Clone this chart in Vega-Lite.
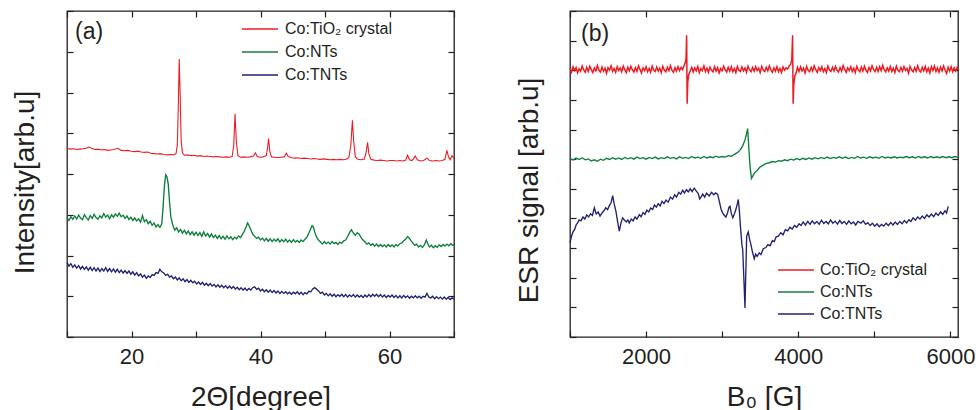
{
  "$schema": "https://vega.github.io/schema/vega-lite/v6.json",
  "background": "white",
  "padding": {"left": 10, "top": 9, "right": 0, "bottom": 0},
  "config": {
    "font": "Liberation Sans",
    "view": {"stroke": "#231f20", "strokeWidth": 1.3},
    "axis": {"grid": false, "domain": false, "tickColor": "#231f20", "tickSize": -6, "tickWidth": 1.2, "labelFont": "Liberation Sans", "labelFontSize": 22, "labelColor": "#231f20", "labelPadding": 15, "labelFlush": false, "labelOverlap": false, "titleFont": "Liberation Sans", "titleFontSize": 28, "titleFontWeight": "normal", "titleColor": "#231f20"},
    "line": {"strokeWidth": 1.35}
  },
  "datasets": {
    "xrd_c": [{"x":10.0,"y":4.63},{"x":10.5,"y":4.61},{"x":11.0,"y":4.62},{"x":11.5,"y":4.6},{"x":12.0,"y":4.61},{"x":12.5,"y":4.62},{"x":13.0,"y":4.63},{"x":13.4,"y":4.66},{"x":13.8,"y":4.63},{"x":14.3,"y":4.6},{"x":14.8,"y":4.61},{"x":15.3,"y":4.59},{"x":15.8,"y":4.6},{"x":16.3,"y":4.58},{"x":16.8,"y":4.59},{"x":17.3,"y":4.6},{"x":17.9,"y":4.63},{"x":18.4,"y":4.58},{"x":18.9,"y":4.57},{"x":19.4,"y":4.58},{"x":20.0,"y":4.56},{"x":20.5,"y":4.55},{"x":21.0,"y":4.56},{"x":21.5,"y":4.54},{"x":22.0,"y":4.53},{"x":22.5,"y":4.54},{"x":23.0,"y":4.51},{"x":23.5,"y":4.5},{"x":24.0,"y":4.49},{"x":24.5,"y":4.5},{"x":25.0,"y":4.48},{"x":25.5,"y":4.47},{"x":26.0,"y":4.48},{"x":26.5,"y":4.47},{"x":26.9,"y":4.5},{"x":27.1,"y":4.7},{"x":27.25,"y":5.6},{"x":27.4,"y":6.82},{"x":27.55,"y":5.9},{"x":27.7,"y":4.8},{"x":27.9,"y":4.52},{"x":28.2,"y":4.46},{"x":28.7,"y":4.47},{"x":29.2,"y":4.45},{"x":29.7,"y":4.46},{"x":30.2,"y":4.44},{"x":30.7,"y":4.45},{"x":31.2,"y":4.43},{"x":31.7,"y":4.44},{"x":32.2,"y":4.43},{"x":32.7,"y":4.42},{"x":33.2,"y":4.43},{"x":33.7,"y":4.42},{"x":34.2,"y":4.41},{"x":34.7,"y":4.42},{"x":35.2,"y":4.41},{"x":35.6,"y":4.43},{"x":35.85,"y":4.7},{"x":36.05,"y":5.47},{"x":36.25,"y":4.8},{"x":36.5,"y":4.45},{"x":36.9,"y":4.41},{"x":37.4,"y":4.42},{"x":37.9,"y":4.41},{"x":38.4,"y":4.42},{"x":38.9,"y":4.44},{"x":39.2,"y":4.52},{"x":39.5,"y":4.43},{"x":39.9,"y":4.41},{"x":40.4,"y":4.42},{"x":40.9,"y":4.45},{"x":41.1,"y":4.65},{"x":41.25,"y":4.87},{"x":41.45,"y":4.55},{"x":41.7,"y":4.42},{"x":42.2,"y":4.41},{"x":42.7,"y":4.4},{"x":43.2,"y":4.41},{"x":43.7,"y":4.42},{"x":44.0,"y":4.51},{"x":44.3,"y":4.43},{"x":44.8,"y":4.4},{"x":45.3,"y":4.39},{"x":45.8,"y":4.4},{"x":46.3,"y":4.38},{"x":46.8,"y":4.39},{"x":47.3,"y":4.38},{"x":47.8,"y":4.37},{"x":48.3,"y":4.38},{"x":48.8,"y":4.37},{"x":49.3,"y":4.36},{"x":49.8,"y":4.37},{"x":50.3,"y":4.36},{"x":50.8,"y":4.35},{"x":51.3,"y":4.36},{"x":51.8,"y":4.35},{"x":52.3,"y":4.36},{"x":52.8,"y":4.35},{"x":53.3,"y":4.36},{"x":53.7,"y":4.4},{"x":54.0,"y":4.7},{"x":54.25,"y":5.32},{"x":54.45,"y":4.8},{"x":54.7,"y":4.42},{"x":55.1,"y":4.36},{"x":55.6,"y":4.35},{"x":56.1,"y":4.37},{"x":56.4,"y":4.55},{"x":56.6,"y":4.78},{"x":56.8,"y":4.5},{"x":57.1,"y":4.36},{"x":57.6,"y":4.34},{"x":58.1,"y":4.33},{"x":58.6,"y":4.34},{"x":59.1,"y":4.33},{"x":59.6,"y":4.32},{"x":60.1,"y":4.33},{"x":60.6,"y":4.33},{"x":61.1,"y":4.32},{"x":61.6,"y":4.33},{"x":62.1,"y":4.32},{"x":62.5,"y":4.34},{"x":62.8,"y":4.46},{"x":63.1,"y":4.35},{"x":63.5,"y":4.33},{"x":64.0,"y":4.44},{"x":64.3,"y":4.35},{"x":64.8,"y":4.32},{"x":65.3,"y":4.33},{"x":65.8,"y":4.39},{"x":66.2,"y":4.33},{"x":66.7,"y":4.32},{"x":67.2,"y":4.33},{"x":67.7,"y":4.32},{"x":68.2,"y":4.33},{"x":68.6,"y":4.36},{"x":68.9,"y":4.58},{"x":69.15,"y":4.42},{"x":69.4,"y":4.35},{"x":69.7,"y":4.45},{"x":70.0,"y":4.38}],
    "xrd_n": [{"x":10.0,"y":2.93},{"x":10.3,"y":2.86},{"x":10.6,"y":2.95},{"x":10.9,"y":2.89},{"x":11.2,"y":2.97},{"x":11.5,"y":2.9},{"x":11.8,"y":2.99},{"x":12.1,"y":2.92},{"x":12.4,"y":2.88},{"x":12.7,"y":3.0},{"x":13.0,"y":2.93},{"x":13.3,"y":2.87},{"x":13.6,"y":2.98},{"x":13.9,"y":2.91},{"x":14.2,"y":3.01},{"x":14.5,"y":2.93},{"x":14.8,"y":2.89},{"x":15.1,"y":2.97},{"x":15.4,"y":2.92},{"x":15.7,"y":3.03},{"x":16.0,"y":2.94},{"x":16.3,"y":2.99},{"x":16.6,"y":2.9},{"x":16.9,"y":3.0},{"x":17.2,"y":2.94},{"x":17.5,"y":3.02},{"x":17.8,"y":2.96},{"x":18.1,"y":3.04},{"x":18.4,"y":2.95},{"x":18.7,"y":2.99},{"x":19.0,"y":2.91},{"x":19.3,"y":2.97},{"x":19.6,"y":2.88},{"x":19.9,"y":2.94},{"x":20.2,"y":2.86},{"x":20.5,"y":2.92},{"x":20.8,"y":2.85},{"x":21.1,"y":2.9},{"x":21.4,"y":2.82},{"x":21.7,"y":2.98},{"x":22.0,"y":2.83},{"x":22.3,"y":2.88},{"x":22.6,"y":2.78},{"x":22.9,"y":2.84},{"x":23.2,"y":2.74},{"x":23.5,"y":2.8},{"x":23.8,"y":2.7},{"x":24.1,"y":2.76},{"x":24.4,"y":2.69},{"x":24.7,"y":2.78},{"x":24.9,"y":3.2},{"x":25.1,"y":3.7},{"x":25.3,"y":3.98},{"x":25.5,"y":3.93},{"x":25.7,"y":3.75},{"x":25.9,"y":3.3},{"x":26.1,"y":2.95},{"x":26.4,"y":2.75},{"x":26.7,"y":2.62},{"x":27.0,"y":2.68},{"x":27.3,"y":2.58},{"x":27.6,"y":2.64},{"x":27.9,"y":2.55},{"x":28.2,"y":2.62},{"x":28.5,"y":2.53},{"x":28.8,"y":2.6},{"x":29.1,"y":2.51},{"x":29.4,"y":2.58},{"x":29.7,"y":2.5},{"x":30.0,"y":2.57},{"x":30.3,"y":2.49},{"x":30.6,"y":2.56},{"x":30.9,"y":2.47},{"x":31.2,"y":2.58},{"x":31.5,"y":2.48},{"x":31.8,"y":2.54},{"x":32.1,"y":2.45},{"x":32.4,"y":2.53},{"x":32.7,"y":2.44},{"x":33.0,"y":2.5},{"x":33.3,"y":2.42},{"x":33.6,"y":2.49},{"x":33.9,"y":2.41},{"x":34.2,"y":2.47},{"x":34.5,"y":2.4},{"x":34.8,"y":2.48},{"x":35.1,"y":2.41},{"x":35.4,"y":2.46},{"x":35.7,"y":2.39},{"x":36.0,"y":2.45},{"x":36.3,"y":2.41},{"x":36.6,"y":2.48},{"x":36.9,"y":2.44},{"x":37.2,"y":2.52},{"x":37.5,"y":2.6},{"x":37.8,"y":2.72},{"x":38.0,"y":2.8},{"x":38.2,"y":2.74},{"x":38.5,"y":2.63},{"x":38.8,"y":2.52},{"x":39.1,"y":2.47},{"x":39.4,"y":2.42},{"x":39.7,"y":2.45},{"x":40.0,"y":2.38},{"x":40.3,"y":2.43},{"x":40.6,"y":2.36},{"x":40.9,"y":2.42},{"x":41.2,"y":2.35},{"x":41.5,"y":2.41},{"x":41.8,"y":2.34},{"x":42.1,"y":2.4},{"x":42.4,"y":2.35},{"x":42.7,"y":2.41},{"x":43.0,"y":2.33},{"x":43.3,"y":2.39},{"x":43.6,"y":2.34},{"x":43.9,"y":2.4},{"x":44.2,"y":2.33},{"x":44.5,"y":2.38},{"x":44.8,"y":2.32},{"x":45.1,"y":2.39},{"x":45.4,"y":2.33},{"x":45.7,"y":2.37},{"x":46.0,"y":2.32},{"x":46.3,"y":2.38},{"x":46.6,"y":2.34},{"x":46.9,"y":2.4},{"x":47.2,"y":2.45},{"x":47.5,"y":2.55},{"x":47.8,"y":2.66},{"x":48.0,"y":2.73},{"x":48.2,"y":2.7},{"x":48.4,"y":2.58},{"x":48.7,"y":2.45},{"x":49.0,"y":2.38},{"x":49.3,"y":2.33},{"x":49.6,"y":2.28},{"x":49.9,"y":2.34},{"x":50.2,"y":2.29},{"x":50.5,"y":2.33},{"x":50.8,"y":2.28},{"x":51.1,"y":2.34},{"x":51.4,"y":2.29},{"x":51.7,"y":2.32},{"x":52.0,"y":2.27},{"x":52.3,"y":2.33},{"x":52.6,"y":2.3},{"x":52.9,"y":2.36},{"x":53.2,"y":2.38},{"x":53.5,"y":2.46},{"x":53.8,"y":2.56},{"x":54.1,"y":2.63},{"x":54.4,"y":2.55},{"x":54.7,"y":2.5},{"x":55.0,"y":2.56},{"x":55.3,"y":2.52},{"x":55.6,"y":2.44},{"x":55.9,"y":2.38},{"x":56.2,"y":2.33},{"x":56.5,"y":2.28},{"x":56.8,"y":2.31},{"x":57.1,"y":2.25},{"x":57.4,"y":2.29},{"x":57.7,"y":2.23},{"x":58.0,"y":2.28},{"x":58.3,"y":2.22},{"x":58.6,"y":2.27},{"x":58.9,"y":2.22},{"x":59.2,"y":2.26},{"x":59.5,"y":2.21},{"x":59.8,"y":2.27},{"x":60.1,"y":2.22},{"x":60.4,"y":2.26},{"x":60.7,"y":2.21},{"x":61.0,"y":2.27},{"x":61.3,"y":2.23},{"x":61.6,"y":2.29},{"x":61.9,"y":2.31},{"x":62.2,"y":2.36},{"x":62.5,"y":2.4},{"x":62.8,"y":2.46},{"x":63.0,"y":2.44},{"x":63.3,"y":2.37},{"x":63.6,"y":2.31},{"x":63.9,"y":2.25},{"x":64.2,"y":2.28},{"x":64.5,"y":2.21},{"x":64.8,"y":2.25},{"x":65.1,"y":2.2},{"x":65.4,"y":2.26},{"x":65.7,"y":2.38},{"x":65.9,"y":2.3},{"x":66.2,"y":2.21},{"x":66.5,"y":2.25},{"x":66.8,"y":2.19},{"x":67.1,"y":2.24},{"x":67.4,"y":2.2},{"x":67.7,"y":2.26},{"x":68.0,"y":2.22},{"x":68.3,"y":2.27},{"x":68.6,"y":2.23},{"x":68.9,"y":2.28},{"x":69.2,"y":2.24},{"x":69.5,"y":2.29},{"x":69.8,"y":2.25},{"x":70.0,"y":2.27}],
    "xrd_t": [{"x":10.0,"y":1.83},{"x":10.3,"y":1.74},{"x":10.6,"y":1.8},{"x":10.9,"y":1.71},{"x":11.2,"y":1.77},{"x":11.5,"y":1.69},{"x":11.8,"y":1.75},{"x":12.1,"y":1.67},{"x":12.4,"y":1.73},{"x":12.7,"y":1.66},{"x":13.0,"y":1.72},{"x":13.3,"y":1.64},{"x":13.6,"y":1.71},{"x":13.9,"y":1.63},{"x":14.2,"y":1.7},{"x":14.5,"y":1.62},{"x":14.8,"y":1.69},{"x":15.1,"y":1.61},{"x":15.4,"y":1.68},{"x":15.7,"y":1.62},{"x":16.0,"y":1.7},{"x":16.3,"y":1.61},{"x":16.6,"y":1.68},{"x":16.9,"y":1.6},{"x":17.2,"y":1.67},{"x":17.5,"y":1.59},{"x":17.8,"y":1.66},{"x":18.1,"y":1.58},{"x":18.4,"y":1.64},{"x":18.7,"y":1.57},{"x":19.0,"y":1.63},{"x":19.3,"y":1.56},{"x":19.6,"y":1.62},{"x":19.9,"y":1.54},{"x":20.2,"y":1.6},{"x":20.5,"y":1.52},{"x":20.8,"y":1.58},{"x":21.1,"y":1.5},{"x":21.4,"y":1.55},{"x":21.7,"y":1.47},{"x":22.0,"y":1.52},{"x":22.3,"y":1.44},{"x":22.6,"y":1.5},{"x":22.9,"y":1.46},{"x":23.2,"y":1.53},{"x":23.5,"y":1.51},{"x":23.8,"y":1.58},{"x":24.1,"y":1.56},{"x":24.4,"y":1.66},{"x":24.7,"y":1.6},{"x":25.0,"y":1.57},{"x":25.3,"y":1.51},{"x":25.6,"y":1.54},{"x":25.9,"y":1.47},{"x":26.2,"y":1.5},{"x":26.5,"y":1.43},{"x":26.8,"y":1.47},{"x":27.1,"y":1.4},{"x":27.4,"y":1.45},{"x":27.7,"y":1.38},{"x":28.0,"y":1.43},{"x":28.3,"y":1.36},{"x":28.6,"y":1.41},{"x":28.9,"y":1.34},{"x":29.2,"y":1.39},{"x":29.5,"y":1.33},{"x":29.8,"y":1.37},{"x":30.1,"y":1.3},{"x":30.4,"y":1.35},{"x":30.7,"y":1.29},{"x":31.0,"y":1.34},{"x":31.3,"y":1.27},{"x":31.6,"y":1.32},{"x":31.9,"y":1.26},{"x":32.2,"y":1.31},{"x":32.5,"y":1.25},{"x":32.8,"y":1.29},{"x":33.1,"y":1.23},{"x":33.4,"y":1.28},{"x":33.7,"y":1.22},{"x":34.0,"y":1.27},{"x":34.3,"y":1.21},{"x":34.6,"y":1.26},{"x":34.9,"y":1.2},{"x":35.2,"y":1.25},{"x":35.5,"y":1.19},{"x":35.8,"y":1.24},{"x":36.1,"y":1.18},{"x":36.4,"y":1.22},{"x":36.7,"y":1.16},{"x":37.0,"y":1.21},{"x":37.3,"y":1.15},{"x":37.6,"y":1.2},{"x":37.9,"y":1.14},{"x":38.2,"y":1.19},{"x":38.5,"y":1.15},{"x":38.8,"y":1.21},{"x":39.1,"y":1.23},{"x":39.4,"y":1.17},{"x":39.7,"y":1.2},{"x":40.0,"y":1.13},{"x":40.3,"y":1.17},{"x":40.6,"y":1.11},{"x":40.9,"y":1.16},{"x":41.2,"y":1.1},{"x":41.5,"y":1.15},{"x":41.8,"y":1.09},{"x":42.1,"y":1.14},{"x":42.4,"y":1.08},{"x":42.7,"y":1.13},{"x":43.0,"y":1.07},{"x":43.3,"y":1.12},{"x":43.6,"y":1.07},{"x":43.9,"y":1.11},{"x":44.2,"y":1.06},{"x":44.5,"y":1.1},{"x":44.8,"y":1.05},{"x":45.1,"y":1.1},{"x":45.4,"y":1.06},{"x":45.7,"y":1.11},{"x":46.0,"y":1.05},{"x":46.3,"y":1.1},{"x":46.6,"y":1.04},{"x":46.9,"y":1.09},{"x":47.2,"y":1.06},{"x":47.5,"y":1.12},{"x":47.8,"y":1.11},{"x":48.1,"y":1.18},{"x":48.4,"y":1.21},{"x":48.7,"y":1.17},{"x":49.0,"y":1.13},{"x":49.3,"y":1.07},{"x":49.6,"y":1.1},{"x":49.9,"y":1.03},{"x":50.2,"y":1.07},{"x":50.5,"y":1.01},{"x":50.8,"y":1.06},{"x":51.1,"y":1.0},{"x":51.4,"y":1.05},{"x":51.7,"y":0.99},{"x":52.0,"y":1.04},{"x":52.3,"y":1.0},{"x":52.6,"y":1.05},{"x":52.9,"y":0.99},{"x":53.2,"y":1.04},{"x":53.5,"y":0.98},{"x":53.8,"y":1.03},{"x":54.1,"y":0.99},{"x":54.4,"y":1.04},{"x":54.7,"y":0.98},{"x":55.0,"y":1.03},{"x":55.3,"y":0.98},{"x":55.6,"y":1.02},{"x":55.9,"y":0.97},{"x":56.2,"y":1.03},{"x":56.5,"y":0.98},{"x":56.8,"y":1.04},{"x":57.1,"y":0.99},{"x":57.4,"y":1.05},{"x":57.7,"y":1.0},{"x":58.0,"y":1.05},{"x":58.3,"y":0.99},{"x":58.6,"y":1.04},{"x":58.9,"y":0.98},{"x":59.2,"y":1.03},{"x":59.5,"y":0.97},{"x":59.8,"y":1.02},{"x":60.1,"y":0.98},{"x":60.4,"y":1.03},{"x":60.7,"y":0.97},{"x":61.0,"y":1.02},{"x":61.3,"y":0.96},{"x":61.6,"y":1.01},{"x":61.9,"y":0.96},{"x":62.2,"y":1.02},{"x":62.5,"y":0.97},{"x":62.8,"y":1.01},{"x":63.1,"y":0.95},{"x":63.4,"y":1.0},{"x":63.7,"y":0.96},{"x":64.0,"y":1.01},{"x":64.3,"y":0.96},{"x":64.6,"y":1.0},{"x":64.9,"y":0.95},{"x":65.2,"y":1.0},{"x":65.5,"y":0.98},{"x":65.8,"y":1.07},{"x":66.1,"y":0.98},{"x":66.4,"y":0.96},{"x":66.7,"y":1.0},{"x":67.0,"y":0.94},{"x":67.3,"y":0.99},{"x":67.6,"y":0.94},{"x":67.9,"y":0.98},{"x":68.2,"y":0.93},{"x":68.5,"y":0.98},{"x":68.8,"y":0.93},{"x":69.1,"y":0.97},{"x":69.4,"y":0.92},{"x":69.7,"y":0.96},{"x":70.0,"y":0.93}],
    "esr_c": [{"x":1000,"y":9.06},{"x":1020,"y":8.94},{"x":1040,"y":9.12},{"x":1060,"y":8.99},{"x":1080,"y":9.09},{"x":1100,"y":8.91},{"x":1120,"y":9.05},{"x":1140,"y":8.97},{"x":1160,"y":9.14},{"x":1180,"y":9.01},{"x":1200,"y":8.93},{"x":1220,"y":9.1},{"x":1240,"y":8.96},{"x":1260,"y":9.13},{"x":1280,"y":9.02},{"x":1300,"y":8.92},{"x":1320,"y":9.08},{"x":1340,"y":8.98},{"x":1360,"y":9.16},{"x":1380,"y":9.0},{"x":1400,"y":8.94},{"x":1420,"y":9.11},{"x":1440,"y":8.97},{"x":1460,"y":9.07},{"x":1480,"y":8.9},{"x":1500,"y":9.09},{"x":1520,"y":9.0},{"x":1540,"y":9.15},{"x":1560,"y":8.96},{"x":1580,"y":9.06},{"x":1600,"y":8.93},{"x":1620,"y":9.12},{"x":1640,"y":8.99},{"x":1660,"y":9.08},{"x":1680,"y":8.95},{"x":1700,"y":9.14},{"x":1720,"y":9.02},{"x":1740,"y":8.92},{"x":1760,"y":9.1},{"x":1780,"y":8.98},{"x":1800,"y":9.13},{"x":1820,"y":9.01},{"x":1840,"y":8.94},{"x":1860,"y":9.09},{"x":1880,"y":8.96},{"x":1900,"y":9.15},{"x":1920,"y":9.03},{"x":1940,"y":8.91},{"x":1960,"y":9.08},{"x":1980,"y":8.99},{"x":2000,"y":9.12},{"x":2020,"y":8.95},{"x":2040,"y":9.06},{"x":2060,"y":8.93},{"x":2080,"y":9.14},{"x":2100,"y":9.0},{"x":2120,"y":8.96},{"x":2140,"y":9.11},{"x":2160,"y":8.97},{"x":2180,"y":9.07},{"x":2200,"y":8.92},{"x":2220,"y":9.13},{"x":2240,"y":9.01},{"x":2260,"y":8.95},{"x":2280,"y":9.1},{"x":2300,"y":8.98},{"x":2320,"y":9.16},{"x":2340,"y":9.0},{"x":2360,"y":8.93},{"x":2380,"y":9.09},{"x":2400,"y":8.97},{"x":2420,"y":9.12},{"x":2440,"y":8.99},{"x":2460,"y":9.1},{"x":2480,"y":9.02},{"x":2500,"y":9.16},{"x":2515,"y":9.25},{"x":2525,"y":9.4},{"x":2533,"y":10.18},{"x":2540,"y":7.87},{"x":2548,"y":8.6},{"x":2560,"y":8.85},{"x":2580,"y":8.97},{"x":2600,"y":9.1},{"x":2620,"y":8.94},{"x":2640,"y":9.08},{"x":2660,"y":8.98},{"x":2680,"y":9.13},{"x":2700,"y":8.92},{"x":2720,"y":9.06},{"x":2740,"y":8.99},{"x":2760,"y":9.15},{"x":2780,"y":8.96},{"x":2800,"y":9.07},{"x":2820,"y":8.93},{"x":2840,"y":9.11},{"x":2860,"y":9.0},{"x":2880,"y":8.95},{"x":2900,"y":9.12},{"x":2920,"y":8.97},{"x":2940,"y":9.09},{"x":2960,"y":8.91},{"x":2980,"y":9.06},{"x":3000,"y":8.98},{"x":3020,"y":9.14},{"x":3040,"y":9.01},{"x":3060,"y":8.94},{"x":3080,"y":9.1},{"x":3100,"y":8.97},{"x":3120,"y":9.12},{"x":3140,"y":8.95},{"x":3160,"y":9.06},{"x":3180,"y":8.92},{"x":3200,"y":9.13},{"x":3220,"y":9.0},{"x":3240,"y":8.96},{"x":3260,"y":9.11},{"x":3280,"y":8.98},{"x":3300,"y":9.08},{"x":3320,"y":8.93},{"x":3340,"y":9.14},{"x":3360,"y":9.01},{"x":3380,"y":8.95},{"x":3400,"y":9.09},{"x":3420,"y":8.97},{"x":3440,"y":9.12},{"x":3460,"y":8.99},{"x":3480,"y":9.07},{"x":3500,"y":8.92},{"x":3520,"y":9.13},{"x":3540,"y":9.0},{"x":3560,"y":8.96},{"x":3580,"y":9.1},{"x":3600,"y":8.98},{"x":3620,"y":9.15},{"x":3640,"y":9.01},{"x":3660,"y":8.93},{"x":3680,"y":9.08},{"x":3700,"y":8.97},{"x":3720,"y":9.12},{"x":3740,"y":8.95},{"x":3760,"y":9.06},{"x":3780,"y":8.92},{"x":3800,"y":9.11},{"x":3820,"y":9.0},{"x":3840,"y":9.08},{"x":3860,"y":9.04},{"x":3880,"y":9.14},{"x":3900,"y":9.2},{"x":3915,"y":9.35},{"x":3926,"y":10.18},{"x":3933,"y":7.87},{"x":3941,"y":8.5},{"x":3955,"y":8.8},{"x":3975,"y":8.93},{"x":3990,"y":9.1},{"x":4010,"y":8.96},{"x":4030,"y":9.12},{"x":4050,"y":8.98},{"x":4070,"y":9.07},{"x":4090,"y":8.91},{"x":4110,"y":9.13},{"x":4130,"y":9.0},{"x":4150,"y":8.95},{"x":4170,"y":9.1},{"x":4190,"y":8.97},{"x":4210,"y":9.15},{"x":4230,"y":9.02},{"x":4250,"y":8.93},{"x":4270,"y":9.09},{"x":4290,"y":8.99},{"x":4310,"y":9.12},{"x":4330,"y":8.95},{"x":4350,"y":9.06},{"x":4370,"y":8.92},{"x":4390,"y":9.14},{"x":4410,"y":9.01},{"x":4430,"y":8.96},{"x":4450,"y":9.1},{"x":4470,"y":8.98},{"x":4490,"y":9.13},{"x":4510,"y":9.0},{"x":4530,"y":8.94},{"x":4550,"y":9.09},{"x":4570,"y":8.97},{"x":4590,"y":9.16},{"x":4610,"y":9.02},{"x":4630,"y":8.93},{"x":4650,"y":9.08},{"x":4670,"y":8.99},{"x":4690,"y":9.12},{"x":4710,"y":8.96},{"x":4730,"y":9.07},{"x":4750,"y":8.92},{"x":4770,"y":9.13},{"x":4790,"y":9.01},{"x":4810,"y":8.95},{"x":4830,"y":9.11},{"x":4850,"y":8.97},{"x":4870,"y":9.14},{"x":4890,"y":9.0},{"x":4910,"y":8.93},{"x":4930,"y":9.09},{"x":4950,"y":8.98},{"x":4970,"y":9.15},{"x":4990,"y":9.02},{"x":5010,"y":8.95},{"x":5030,"y":9.1},{"x":5050,"y":8.96},{"x":5070,"y":9.12},{"x":5090,"y":8.99},{"x":5110,"y":9.17},{"x":5130,"y":9.01},{"x":5150,"y":8.94},{"x":5170,"y":9.08},{"x":5190,"y":8.97},{"x":5210,"y":9.13},{"x":5230,"y":8.96},{"x":5250,"y":9.07},{"x":5270,"y":8.92},{"x":5290,"y":9.14},{"x":5310,"y":9.0},{"x":5330,"y":8.95},{"x":5350,"y":9.1},{"x":5370,"y":8.97},{"x":5390,"y":9.12},{"x":5410,"y":8.99},{"x":5430,"y":9.06},{"x":5450,"y":8.9},{"x":5470,"y":9.13},{"x":5490,"y":9.01},{"x":5510,"y":8.95},{"x":5530,"y":9.09},{"x":5550,"y":8.97},{"x":5570,"y":9.15},{"x":5590,"y":9.0},{"x":5610,"y":8.94},{"x":5630,"y":9.1},{"x":5650,"y":8.98},{"x":5670,"y":9.13},{"x":5690,"y":8.95},{"x":5710,"y":9.07},{"x":5730,"y":8.91},{"x":5750,"y":9.12},{"x":5770,"y":8.99},{"x":5790,"y":9.14},{"x":5810,"y":8.96},{"x":5830,"y":9.08},{"x":5850,"y":8.93},{"x":5870,"y":9.11},{"x":5890,"y":8.98},{"x":5910,"y":9.15},{"x":5930,"y":9.0},{"x":5950,"y":8.89},{"x":5970,"y":9.1},{"x":5990,"y":8.97},{"x":6010,"y":9.12},{"x":6030,"y":8.95},{"x":6050,"y":9.08},{"x":6070,"y":8.97},{"x":6090,"y":9.1},{"x":6100,"y":9.02}],
    "esr_n": [{"x":1000,"y":6.02},{"x":1040,"y":5.97},{"x":1080,"y":6.04},{"x":1120,"y":5.99},{"x":1160,"y":6.05},{"x":1200,"y":5.98},{"x":1240,"y":6.01},{"x":1280,"y":5.94},{"x":1320,"y":5.98},{"x":1360,"y":5.93},{"x":1400,"y":6.0},{"x":1440,"y":5.96},{"x":1480,"y":6.03},{"x":1520,"y":5.99},{"x":1560,"y":6.05},{"x":1600,"y":6.0},{"x":1640,"y":6.04},{"x":1680,"y":5.99},{"x":1720,"y":6.06},{"x":1760,"y":6.01},{"x":1800,"y":6.05},{"x":1840,"y":6.0},{"x":1880,"y":6.07},{"x":1920,"y":6.02},{"x":1960,"y":6.05},{"x":2000,"y":6.0},{"x":2040,"y":6.06},{"x":2080,"y":6.02},{"x":2120,"y":6.07},{"x":2160,"y":6.01},{"x":2200,"y":6.05},{"x":2240,"y":6.02},{"x":2280,"y":6.08},{"x":2320,"y":6.03},{"x":2360,"y":6.06},{"x":2400,"y":6.01},{"x":2440,"y":6.08},{"x":2480,"y":6.03},{"x":2520,"y":6.06},{"x":2560,"y":6.02},{"x":2600,"y":6.09},{"x":2640,"y":6.04},{"x":2680,"y":6.07},{"x":2720,"y":6.03},{"x":2760,"y":6.09},{"x":2800,"y":6.04},{"x":2840,"y":6.08},{"x":2880,"y":6.05},{"x":2920,"y":6.1},{"x":2960,"y":6.06},{"x":3000,"y":6.09},{"x":3040,"y":6.07},{"x":3080,"y":6.12},{"x":3120,"y":6.1},{"x":3160,"y":6.16},{"x":3200,"y":6.22},{"x":3240,"y":6.32},{"x":3270,"y":6.45},{"x":3300,"y":6.65},{"x":3320,"y":6.85},{"x":3335,"y":7.03},{"x":3350,"y":6.4},{"x":3365,"y":5.8},{"x":3385,"y":5.35},{"x":3400,"y":5.42},{"x":3430,"y":5.55},{"x":3460,"y":5.62},{"x":3500,"y":5.74},{"x":3540,"y":5.8},{"x":3580,"y":5.86},{"x":3620,"y":5.88},{"x":3660,"y":5.92},{"x":3700,"y":5.9},{"x":3740,"y":5.95},{"x":3780,"y":5.93},{"x":3820,"y":5.98},{"x":3860,"y":5.95},{"x":3900,"y":6.0},{"x":3940,"y":5.97},{"x":3980,"y":6.02},{"x":4020,"y":5.98},{"x":4060,"y":6.03},{"x":4100,"y":5.99},{"x":4140,"y":6.04},{"x":4180,"y":6.0},{"x":4220,"y":6.05},{"x":4260,"y":6.01},{"x":4300,"y":6.06},{"x":4340,"y":6.02},{"x":4380,"y":6.07},{"x":4420,"y":6.02},{"x":4460,"y":6.06},{"x":4500,"y":6.03},{"x":4540,"y":6.08},{"x":4580,"y":6.03},{"x":4620,"y":6.07},{"x":4660,"y":6.02},{"x":4700,"y":6.06},{"x":4740,"y":6.03},{"x":4780,"y":6.09},{"x":4820,"y":6.04},{"x":4860,"y":6.07},{"x":4900,"y":6.03},{"x":4940,"y":6.08},{"x":4980,"y":6.04},{"x":5020,"y":6.07},{"x":5060,"y":6.03},{"x":5100,"y":6.09},{"x":5140,"y":6.04},{"x":5180,"y":6.07},{"x":5220,"y":6.04},{"x":5260,"y":6.08},{"x":5300,"y":6.04},{"x":5340,"y":6.07},{"x":5380,"y":6.05},{"x":5420,"y":6.09},{"x":5460,"y":6.05},{"x":5500,"y":6.08},{"x":5540,"y":6.04},{"x":5580,"y":6.09},{"x":5620,"y":6.05},{"x":5660,"y":6.08},{"x":5700,"y":6.04},{"x":5740,"y":6.09},{"x":5780,"y":6.05},{"x":5820,"y":6.08},{"x":5860,"y":6.05},{"x":5900,"y":6.09},{"x":5940,"y":6.05},{"x":5980,"y":6.08},{"x":6020,"y":6.05},{"x":6060,"y":6.09},{"x":6100,"y":6.06}],
    "esr_t": [{"x":1000,"y":3.18},{"x":1020,"y":3.4},{"x":1040,"y":3.55},{"x":1060,"y":3.62},{"x":1080,"y":3.78},{"x":1100,"y":3.85},{"x":1120,"y":3.95},{"x":1145,"y":3.92},{"x":1170,"y":4.05},{"x":1195,"y":3.98},{"x":1220,"y":4.12},{"x":1245,"y":4.05},{"x":1270,"y":4.16},{"x":1295,"y":4.1},{"x":1320,"y":4.36},{"x":1345,"y":4.15},{"x":1370,"y":4.22},{"x":1395,"y":4.08},{"x":1420,"y":4.18},{"x":1445,"y":4.26},{"x":1470,"y":4.36},{"x":1495,"y":4.3},{"x":1520,"y":4.45},{"x":1540,"y":4.53},{"x":1561,"y":4.77},{"x":1580,"y":4.5},{"x":1604,"y":4.24},{"x":1625,"y":3.9},{"x":1648,"y":3.57},{"x":1670,"y":3.85},{"x":1692,"y":4.02},{"x":1715,"y":3.95},{"x":1740,"y":3.88},{"x":1760,"y":3.95},{"x":1779,"y":3.85},{"x":1805,"y":3.98},{"x":1830,"y":3.92},{"x":1855,"y":4.05},{"x":1880,"y":3.98},{"x":1911,"y":4.13},{"x":1935,"y":4.06},{"x":1960,"y":4.2},{"x":1985,"y":4.14},{"x":2010,"y":4.28},{"x":2035,"y":4.22},{"x":2060,"y":4.35},{"x":2087,"y":4.3},{"x":2110,"y":4.45},{"x":2135,"y":4.38},{"x":2160,"y":4.5},{"x":2185,"y":4.42},{"x":2210,"y":4.58},{"x":2235,"y":4.5},{"x":2262,"y":4.62},{"x":2290,"y":4.55},{"x":2320,"y":4.72},{"x":2349,"y":4.65},{"x":2375,"y":4.8},{"x":2400,"y":4.72},{"x":2430,"y":4.88},{"x":2455,"y":4.82},{"x":2481,"y":4.95},{"x":2505,"y":4.86},{"x":2530,"y":4.97},{"x":2555,"y":4.9},{"x":2580,"y":5.0},{"x":2605,"y":4.91},{"x":2634,"y":5.02},{"x":2660,"y":4.92},{"x":2685,"y":4.85},{"x":2705,"y":4.66},{"x":2722,"y":4.72},{"x":2745,"y":4.82},{"x":2770,"y":4.72},{"x":2795,"y":4.85},{"x":2830,"y":4.76},{"x":2860,"y":4.88},{"x":2890,"y":4.8},{"x":2915,"y":4.86},{"x":2941,"y":4.81},{"x":2965,"y":4.55},{"x":2985,"y":4.32},{"x":3006,"y":4.19},{"x":3030,"y":4.1},{"x":3050,"y":4.05},{"x":3072,"y":4.2},{"x":3090,"y":4.38},{"x":3103,"y":4.41},{"x":3120,"y":4.18},{"x":3140,"y":4.02},{"x":3160,"y":4.15},{"x":3180,"y":4.3},{"x":3200,"y":4.5},{"x":3212,"y":4.64},{"x":3225,"y":4.3},{"x":3240,"y":3.74},{"x":3260,"y":3.1},{"x":3270,"y":2.95},{"x":3285,"y":2.0},{"x":3300,"y":0.98},{"x":3312,"y":2.3},{"x":3322,"y":3.4},{"x":3343,"y":3.54},{"x":3360,"y":3.3},{"x":3378,"y":3.12},{"x":3400,"y":2.85},{"x":3422,"y":2.64},{"x":3440,"y":2.8},{"x":3460,"y":2.72},{"x":3488,"y":2.84},{"x":3510,"y":2.78},{"x":3540,"y":2.98},{"x":3575,"y":3.02},{"x":3600,"y":3.12},{"x":3630,"y":3.08},{"x":3660,"y":3.25},{"x":3685,"y":3.22},{"x":3710,"y":3.38},{"x":3740,"y":3.4},{"x":3770,"y":3.52},{"x":3800,"y":3.45},{"x":3830,"y":3.62},{"x":3861,"y":3.58},{"x":3890,"y":3.7},{"x":3920,"y":3.64},{"x":3950,"y":3.76},{"x":3980,"y":3.7},{"x":4010,"y":3.82},{"x":4036,"y":3.76},{"x":4065,"y":3.88},{"x":4095,"y":3.78},{"x":4125,"y":3.9},{"x":4155,"y":3.8},{"x":4185,"y":3.92},{"x":4215,"y":3.82},{"x":4245,"y":3.9},{"x":4275,"y":3.8},{"x":4305,"y":3.94},{"x":4335,"y":3.83},{"x":4365,"y":3.9},{"x":4395,"y":3.82},{"x":4425,"y":3.95},{"x":4455,"y":3.84},{"x":4485,"y":3.91},{"x":4515,"y":3.81},{"x":4545,"y":3.93},{"x":4575,"y":3.83},{"x":4605,"y":3.9},{"x":4635,"y":3.8},{"x":4665,"y":3.92},{"x":4695,"y":3.82},{"x":4725,"y":3.88},{"x":4755,"y":3.78},{"x":4785,"y":3.9},{"x":4824,"y":3.84},{"x":4855,"y":3.92},{"x":4885,"y":3.8},{"x":4915,"y":3.86},{"x":4945,"y":3.76},{"x":4975,"y":3.84},{"x":5005,"y":3.74},{"x":5035,"y":3.82},{"x":5065,"y":3.72},{"x":5095,"y":3.8},{"x":5125,"y":3.74},{"x":5155,"y":3.84},{"x":5185,"y":3.76},{"x":5215,"y":3.86},{"x":5245,"y":3.78},{"x":5275,"y":3.88},{"x":5305,"y":3.8},{"x":5335,"y":3.9},{"x":5365,"y":3.82},{"x":5395,"y":3.93},{"x":5425,"y":3.85},{"x":5455,"y":3.96},{"x":5481,"y":3.9},{"x":5510,"y":4.02},{"x":5540,"y":3.94},{"x":5570,"y":4.05},{"x":5600,"y":3.98},{"x":5630,"y":4.08},{"x":5660,"y":4.0},{"x":5690,"y":4.12},{"x":5720,"y":4.05},{"x":5750,"y":4.15},{"x":5780,"y":4.06},{"x":5810,"y":4.18},{"x":5840,"y":4.1},{"x":5870,"y":4.22},{"x":5900,"y":4.14},{"x":5930,"y":4.26},{"x":5950,"y":4.18},{"x":5971,"y":4.41}]
  },
  "spacing": 116,
  "bounds": "flush",
  "resolve": {"scale": {"color": "independent"}, "legend": {"color": "independent"}},
  "hconcat": [
    {
      "width": 387,
      "height": 326,
      "resolve": {"axis": {"x": "independent", "y": "independent"}},
      "layer": [
        {
          "encoding": {
            "x": {"field": "x", "type": "quantitative", "scale": {"domain": [10, 70], "nice": false, "zero": false}, "axis": {"values": [10, 20, 30, 40, 50, 60, 70], "labelExpr": "datum.value % 20 == 0 ? datum.label : ''", "title": "2Θ[degree]", "titleY": 46}},
            "y": {"field": "y", "type": "quantitative", "scale": {"domain": [0, 8], "nice": false, "zero": false}, "axis": {"values": [0, 1, 2, 3, 4, 5, 6, 7, 8], "labels": false, "title": "Intensity[arb.u]", "titleX": -28, "titleY": 171, "titleBaseline": "bottom"}},
            "color": {"type": "nominal", "scale": {"domain": ["Co:TiO₂ crystal", "Co:NTs", "Co:TNTs"], "range": ["#ed1c24", "#0e7f3c", "#202270"]}, "legend": {"orient": "none", "legendX": 185, "legendY": 10, "title": null, "symbolType": "M-3,0H3", "symbolSize": 144, "symbolStrokeWidth": 1.4, "labelFont": "Liberation Sans", "labelFontSize": 16, "labelColor": "#231f20", "labelOffset": 17, "rowPadding": 7, "padding": 0}}
          },
          "layer": [
            {"data": {"name": "xrd_c"}, "mark": {"type": "line", "strokeWidth": 1.1}, "encoding": {"color": {"datum": "Co:TiO₂ crystal"}}},
            {"data": {"name": "xrd_n"}, "mark": {"type": "line"}, "encoding": {"color": {"datum": "Co:NTs"}}},
            {"data": {"name": "xrd_t"}, "mark": {"type": "line"}, "encoding": {"color": {"datum": "Co:TNTs"}}}
          ]
        },
        {
          "data": {"values": [{"label": "(a)"}]},
          "mark": {"type": "text", "align": "left", "baseline": "alphabetic", "fontSize": 23, "font": "Liberation Sans", "color": "#231f20"},
          "encoding": {
            "x": {"datum": 11.24, "type": "quantitative", "axis": {"orient": "top", "values": [10, 20, 30, 40, 50, 60, 70], "labels": false, "title": null}},
            "y": {"datum": 7.31, "type": "quantitative", "axis": {"orient": "right", "values": [0, 1, 2, 3, 4, 5, 6, 7, 8], "labels": false, "title": null}},
            "text": {"field": "label"}
          }
        }
      ]
    },
    {
      "width": 388,
      "height": 326,
      "resolve": {"axis": {"x": "independent", "y": "independent"}},
      "layer": [
        {
          "encoding": {
            "x": {"field": "x", "type": "quantitative", "scale": {"domain": [1000, 6100], "nice": false, "zero": false}, "axis": {"values": [1000, 2000, 3000, 4000, 5000, 6000], "format": "d", "labelExpr": "datum.value % 2000 == 0 ? datum.label : ''", "title": "B₀ [G]", "titleY": 46}},
            "y": {"field": "y", "type": "quantitative", "scale": {"domain": [0, 11], "nice": false, "zero": false}, "axis": {"values": [0, 1, 2, 3, 4, 5, 6, 7, 8, 9, 10, 11], "labels": false, "title": "ESR signal [arb.u]", "titleX": -27, "titleY": 179, "titleBaseline": "bottom"}},
            "color": {"type": "nominal", "scale": {"domain": ["Co:TiO₂ crystal", "Co:NTs", "Co:TNTs"], "range": ["#ed1c24", "#0e7f3c", "#202270"]}, "legend": {"orient": "none", "legendX": 218, "legendY": 251, "title": null, "symbolType": "M-3,0H3", "symbolSize": 144, "symbolStrokeWidth": 1.4, "labelFont": "Liberation Sans", "labelFontSize": 16, "labelColor": "#231f20", "labelOffset": 16, "rowPadding": 6, "padding": 0}}
          },
          "layer": [
            {"data": {"name": "esr_c"}, "mark": {"type": "line", "strokeWidth": 1.5}, "encoding": {"color": {"datum": "Co:TiO₂ crystal"}}},
            {"data": {"name": "esr_n"}, "mark": {"type": "line"}, "encoding": {"color": {"datum": "Co:NTs"}}},
            {"data": {"name": "esr_t"}, "mark": {"type": "line"}, "encoding": {"color": {"datum": "Co:TNTs"}}}
          ]
        },
        {
          "data": {"values": [{"label": "(b)"}]},
          "mark": {"type": "text", "align": "left", "baseline": "alphabetic", "fontSize": 23, "font": "Liberation Sans", "color": "#231f20"},
          "encoding": {
            "x": {"datum": 1145, "type": "quantitative", "axis": {"orient": "top", "values": [1000, 2000, 3000, 4000, 5000, 6000], "labels": false, "title": null}},
            "y": {"datum": 9.98, "type": "quantitative", "axis": {"orient": "right", "values": [0, 1, 2, 3, 4, 5, 6, 7, 8, 9, 10, 11], "labels": false, "title": null}},
            "text": {"field": "label"}
          }
        }
      ]
    }
  ]
}
